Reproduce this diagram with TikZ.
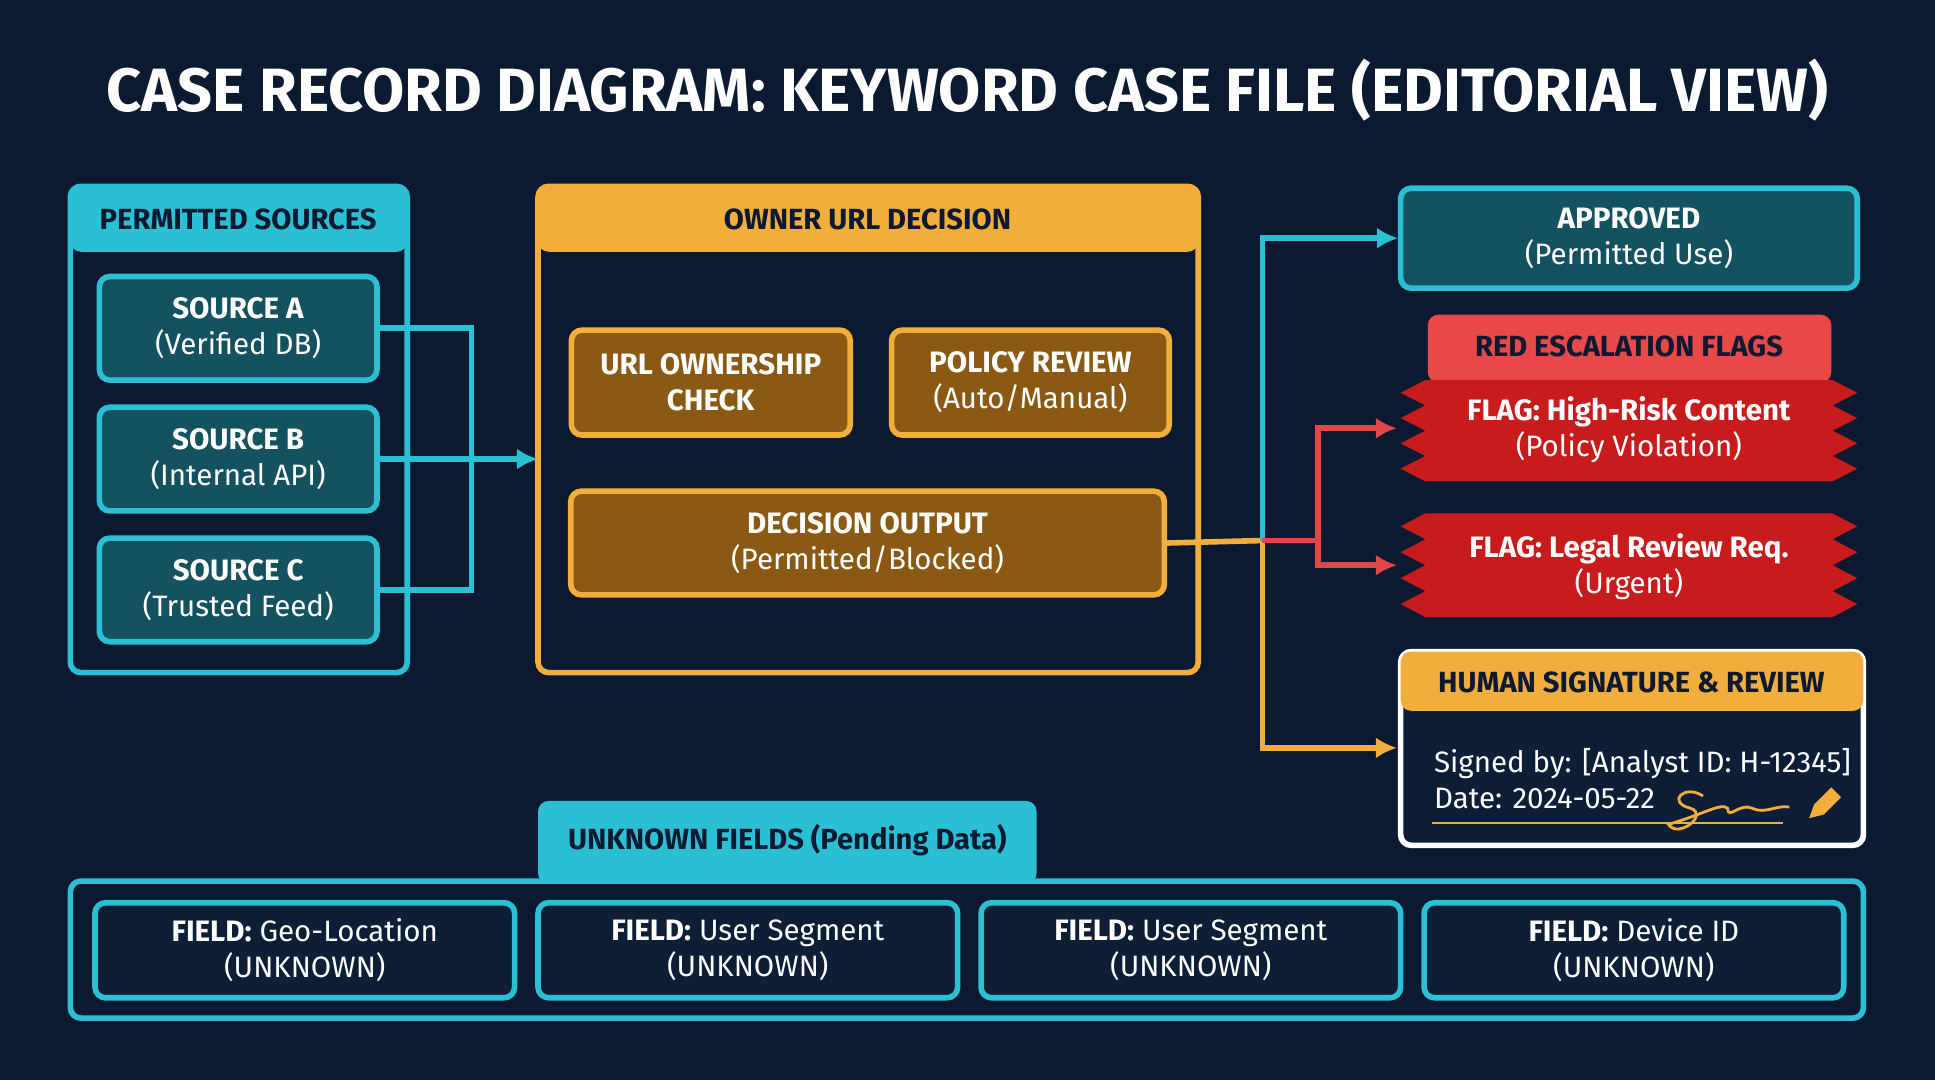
\documentclass[tikz,border=0pt]{standalone}
\usepackage{fontspec}
\setmainfont{Fira Sans}
\usetikzlibrary{positioning,arrows.meta}
\definecolor{bgnavy}{HTML}{0B1A30}
\definecolor{cyanline}{HTML}{2BBFD3}
\definecolor{tealfill}{HTML}{14525F}
\definecolor{orangeline}{HTML}{F2AE3C}
\definecolor{brownfill}{HTML}{8A5A14}
\definecolor{flagred}{HTML}{C81B1B}
\definecolor{redhead}{HTML}{E84848}
\definecolor{redline}{HTML}{E04848}
\definecolor{darkfill}{HTML}{0D1E36}
\def\u{0.01234cm}
\tikzset{
  panel/.style={draw=#1, line width=1.6pt, rounded corners=3pt},
  head/.style={fill=#1, rounded corners=3pt, font=\bfseries\fontsize{8.3}{10}\selectfont, text=bgnavy},
  src/.style={draw=cyanline, fill=tealfill, line width=1.6pt, rounded corners=3pt, text=white,
    align=center, font=\fontsize{8.4}{10.2}\selectfont, minimum width=225*\u, minimum height=84*\u},
  check/.style={draw=orangeline, fill=brownfill, line width=1.6pt, rounded corners=3pt, text=white,
    align=center, font=\fontsize{8.4}{10.2}\selectfont, minimum height=85*\u},
  field/.style={draw=cyanline, fill=darkfill, line width=1.6pt, rounded corners=3pt, text=white,
    align=center, font=\fontsize{8.4}{10.2}\selectfont, minimum width=340*\u, minimum height=77*\u},
  wtxt/.style={text=white, align=center, font=\fontsize{8.4}{10.2}\selectfont},
  link/.style={line width=1.6pt, draw=#1, -{Latex[length=6pt,width=6pt]}},
  plain/.style={line width=1.6pt, draw=#1},
}
\newcommand\jagbox[4]{%
  \fill[flagred] (#1+20,#2) -- (#3-20,#2)
    \foreach \k in {1,...,7}{ -- ({#3-20+20*mod(\k,2)},{#2+(#4-#2)*\k/8}) }
    -- (#3-20,#4) -- (#1+20,#4)
    \foreach \k in {7,6,...,1}{ -- ({#1+20-20*mod(\k,2)},{#2+(#4-#2)*\k/8}) } -- cycle;}
\begin{document}
\begin{tikzpicture}[x=\u, y=-\u]
\fill[bgnavy] (0,0) rectangle (1568,875);
\useasboundingbox (0,0) rectangle (1568,875);

\node[text=white, font=\bfseries\fontsize{17.4}{21}\selectfont] (title) at (784,73)
  {CASE RECORD DIAGRAM: KEYWORD CASE FILE (EDITORIAL VIEW)};

% permitted sources
\fill[cyanline, rounded corners=3pt] (57,151) rectangle (330,204);
\draw[panel=cyanline] (57,151) rectangle (330,545);
\node[head=cyanline] (srchead) at (193,178) {PERMITTED SOURCES};
\node[src] (srcA) at (193,266) {\textbf{SOURCE A}\\(Verified DB)};
\node[src] (srcB) at (193,372) {\textbf{SOURCE B}\\(Internal API)};
\node[src] (srcC) at (193,478) {\textbf{SOURCE C}\\(Trusted Feed)};
\coordinate (srcbus) at (382,372);

% owner url decision
\fill[orangeline, rounded corners=3pt] (436,151) rectangle (971,204);
\draw[panel=orangeline] (436,151) rectangle (971,545);
\node[head=orangeline] (ownhead) at (703,178) {OWNER URL DECISION};
\coordinate (ownin) at (436,372);
\node[check, minimum width=226*\u] (urlchk) at (576,310) {\textbf{URL OWNERSHIP}\\\textbf{CHECK}};
\node[check, minimum width=225*\u] (policy) at (835,310) {\textbf{POLICY REVIEW}\\(Auto/Manual)};
\node[check, minimum width=481*\u, minimum height=84*\u] (decout) at (703,440) {\textbf{DECISION OUTPUT}\\(Permitted/Blocked)};

\draw[plain=cyanline] (srcA.east) -| (srcbus) |- (srcC.east);
\draw[link=cyanline] (srcB.east) -- (ownin);

% outcomes
\node[src, minimum width=370*\u, minimum height=81*\u] (approved) at (1320,193) {\textbf{APPROVED}\\(Permitted Use)};
\fill[redhead, rounded corners=3pt] (1157,255) rectangle (1484,310);
\node[head=redhead] (redflags) at (1320,281) {RED ESCALATION FLAGS};
\jagbox{1135}{308}{1505}{390}
\jagbox{1135}{416}{1505}{500}
\node[wtxt] (flag1) at (1320,348) {\textbf{FLAG: High-Risk Content}\\(Policy Violation)};
\node[wtxt] (flag2) at (1320,459) {\textbf{FLAG: Legal Review Req.}\\(Urgent)};

\fill[darkfill, rounded corners=3pt] (1135,528) rectangle (1510,685);
\draw[panel=white] (1135,528) rectangle (1510,685);
\fill[orangeline, rounded corners=3pt] (1135,528) rectangle (1510,576);
\node[head=orangeline] (sighead) at (1322,553) {HUMAN SIGNATURE \& REVIEW};
\node[wtxt, align=left, anchor=west] (sigtext) at (1152,631)
  {Signed by: [Analyst ID: H-12345]\\Date: 2024-05-22};
\draw[orangeline, line width=0.6pt] (1160,667) -- (1445,667);
\draw[orangeline, line width=0.8pt] (1380,645) .. controls (1365,635) and (1350,650) .. (1370,655)
  .. controls (1385,660) and (1360,680) .. (1352,668) .. controls (1380,660) and (1395,650) .. (1400,655)
  .. controls (1400,665) and (1410,650) .. (1420,655) .. controls (1430,660) and (1440,652) .. (1450,654);
\fill[orangeline] (1466,663) -- (1470,652) -- (1484,638) -- (1492,646) -- (1478,660) -- cycle;
\coordinate (split) at (1023,438);
\coordinate (redsplit) at (1068,438);

\draw[plain=orangeline] (decout.east) -- (split);
\draw[link=cyanline] (split) |- (1133,193);
\draw[link=orangeline] (split) |- (1132,606);
\draw[plain=redline] (split) -- (redsplit);
\draw[link=redline] (redsplit) |- (1132,347);
\draw[link=redline] (redsplit) |- (1132,458);

% unknown fields
\fill[cyanline, rounded corners=3pt] (436,649) rectangle (840,716);
\node[head=cyanline] (unkhead) at (638,681) {UNKNOWN FIELDS (Pending Data)};
\draw[panel=cyanline] (57,714) rectangle (1510,825);
\node[field] (fgeo) at (247,770) {\textbf{FIELD:} Geo-Location\\(UNKNOWN)};
\node[field] (fseg1) at (606,770) {\textbf{FIELD:} User Segment\\(UNKNOWN)};
\node[field] (fseg2) at (965,770) {\textbf{FIELD:} User Segment\\(UNKNOWN)};
\node[field] (fdev) at (1324,770) {\textbf{FIELD:} Device ID\\(UNKNOWN)};
\end{tikzpicture}
\end{document}
